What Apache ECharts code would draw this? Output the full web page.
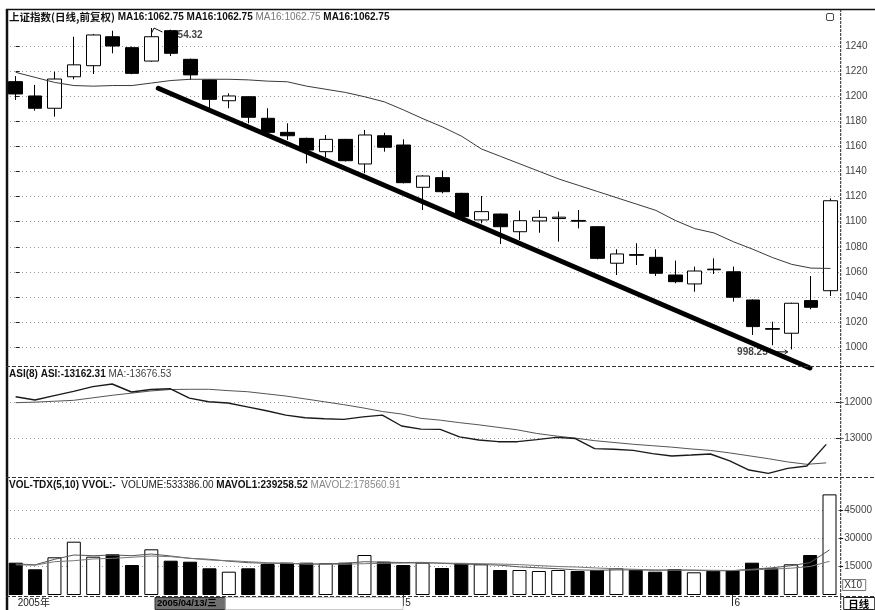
<!DOCTYPE html>
<html><head><meta charset="utf-8">
<script src="https://cdn.jsdelivr.net/npm/echarts@6/dist/echarts.min.js"></script>
<style>html,body{margin:0;padding:0;background:#fff}#c{width:875px;height:610px}</style>
</head><body><div id="c"></div>
<script>
const categories = ['2005/04/04','2005/04/05','2005/04/06','2005/04/07','2005/04/08','2005/04/11','2005/04/12','2005/04/13','2005/04/14','2005/04/15',
'2005/04/18','2005/04/19','2005/04/20','2005/04/21','2005/04/22','2005/04/25','2005/04/26','2005/04/27','2005/04/28','2005/04/29',
'2005/05/09','2005/05/10','2005/05/11','2005/05/12','2005/05/13','2005/05/16','2005/05/17','2005/05/18','2005/05/19','2005/05/20',
'2005/05/23','2005/05/24','2005/05/25','2005/05/26','2005/05/27','2005/05/30','2005/05/31','2005/06/01','2005/06/02','2005/06/03',
'2005/06/06','2005/06/07','2005/06/08'];
const opens  = [1211.6,1200.2,1190.4,1215.5,1224.3,1247.4,1238.7,1228.0,1252.2,1229.4,1213.0,1196.4,1199.6,1182.4,1171.2,1166.4,1155.8,1165.6,1146.0,1168.5,1161.1,1127.4,1135.1,1122.6,1101.4,1106.1,1092.0,1100.6,1102.5,1101.0,1096.0,1066.9,1073.8,1071.6,1057.5,1050.4,1062.2,1060.1,1037.6,1014.8,1011.1,1037.1,1045.0];
const closes = [1201.8,1190.4,1213.7,1225.0,1248.8,1240.0,1218.2,1247.4,1234.2,1217.0,1197.5,1200.2,1183.2,1171.2,1168.5,1157.1,1165.6,1148.6,1169.1,1159.3,1131.1,1136.4,1123.9,1104.0,1108.0,1096.0,1100.8,1103.5,1103.6,1100.4,1070.8,1074.3,1073.2,1058.9,1052.2,1060.7,1061.7,1039.8,1016.4,1014.3,1035.0,1031.8,1116.7];
const lows   = [1197.0,1188.5,1183.7,1213.5,1217.7,1234.2,1217.5,1227.5,1232.0,1213.0,1190.4,1190.4,1178.4,1170.4,1165.1,1146.5,1151.3,1148.0,1138.6,1155.8,1130.5,1109.3,1122.6,1102.7,1098.7,1082.2,1085.4,1091.2,1084.1,1094.7,1070.0,1057.5,1065.5,1056.7,1050.9,1044.2,1058.3,1036.3,1009.7,1001.5,998.25,1030.2,1040.8];
const highs  = [1216.0,1209.0,1219.5,1247.4,1249.5,1252.2,1239.5,1254.32,1253.0,1230.0,1213.5,1202.3,1200.0,1190.4,1178.4,1167.0,1169.1,1166.0,1173.1,1170.9,1165.6,1137.0,1140.7,1123.0,1120.5,1106.5,1108.8,1109.3,1108.0,1109.3,1096.5,1078.0,1082.8,1078.0,1069.0,1064.2,1070.8,1064.2,1038.0,1020.3,1035.5,1056.7,1118.6];
const ma16   = [1219,1215,1211,1208.5,1208,1208.5,1208.5,1210.5,1212.5,1213.5,1213.5,1213.5,1213,1212,1211.5,1208,1205.5,1203,1199.5,1195.5,1189,1182,1175.5,1168,1158,1152,1146,1140,1134,1129,1124,1119,1114,1109,1101,1094.5,1091,1084,1078,1071.5,1066,1063,1062.75];
const asi    = [-11839,-11931,-11810,-11690,-11560,-11486,-11708,-11640,-11617,-11880,-11978,-12015,-12120,-12230,-12350,-12422,-12450,-12468,-12400,-12350,-12653,-12740,-12746,-12955,-13040,-13088,-13088,-13030,-12968,-13000,-13280,-13300,-13330,-13420,-13486,-13460,-13430,-13620,-13875,-13967,-13828,-13764,-13162.31];
const asiMa  = [-12005,-11990,-11965,-11940,-11870,-11800,-11740,-11680,-11640,-11633,-11633,-11670,-11700,-11760,-11820,-11900,-11980,-12060,-12150,-12250,-12320,-12440,-12490,-12560,-12620,-12690,-12760,-12860,-12930,-12990,-13060,-13110,-13160,-13200,-13240,-13290,-13330,-13400,-13480,-13560,-13650,-13717,-13676.53];
const volume = [17120,13620,19980,28250,20300,21570,15900,24220,18180,17650,14150,12350,14150,16430,17120,17120,16800,17120,21200,17650,15900,17120,14300,16800,16270,13250,13250,12720,13250,12720,13250,14150,13250,12350,13780,12030,12720,13250,17120,14150,16270,21200,53339];
const mavol1 = [16500,16000,18900,21200,20830,21200,20830,21730,20670,19430,18900,17900,17120,16800,16800,16300,16500,16800,17650,17400,17200,17300,16800,16300,16200,15800,14900,14400,13900,13300,13100,13300,13300,13100,13300,13100,12800,12900,13700,14400,15500,17200,23926];
const mavol2 = [16000,15800,17650,18180,19100,19450,20000,20670,20320,19430,18550,18200,17650,17120,16800,16500,16300,16300,16600,16800,16900,17000,16900,16800,16600,16400,16100,15600,15100,14800,14300,13900,13600,13300,13200,13200,13100,13000,13300,13700,14200,15100,17856];
const priceTicks = [1000,1020,1040,1060,1080,1100,1120,1140,1160,1180,1200,1220,1240];
const asiTicks = [-13000,-12000];
const volTicks = [15000,30000,45000];
const trendLine = [[7.35,1206.3],[40.94,983.4]];

const FONT = '"Liberation Sans", Arial, "Noto Sans CJK SC", sans-serif';
const N = categories.length;
const candleData = opens.map((o,i)=>[o, closes[i], lows[i], highs[i]]);
const volData = volume.map((v,i)=>({value:v, itemStyle:{color: closes[i] >= opens[i] ? '#fff' : '#000'}}));
const hiIdx = highs.indexOf(Math.max(...highs));
const loIdx = lows.indexOf(Math.min(...lows));

const L = 6, R = 34.8;
const chart = echarts.init(document.getElementById('c'), null, {renderer:'canvas'});

function yAx(grid, min, max, ticks, fmt){
  return {type:'value', gridIndex:grid, position:'right', min, max, scale:true,
    axisLine:{show:false},
    axisTick:{show:true, length:4, customValues:ticks, lineStyle:{color:'#222'}},
    minorTick:{show:false},
    axisLabel:{show:true, customValues:ticks, margin:5, fontSize:10, color:'#444', fontFamily:FONT, formatter:fmt},
    splitLine:{show:true, lineStyle:{color:'#9a9a9a', type:[1,3], width:1}}};
}

const option = {
  animation:false,
  backgroundColor:'#fff',
  grid:[
    {left:L, right:R, top:10, height:356},
    {left:L, right:R, top:367, height:110},
    {left:L, right:R, top:478, height:117}
  ],
  xAxis:[
    {type:'category', gridIndex:0, data:categories, boundaryGap:true, show:false},
    {type:'value', gridIndex:0, min:-0.5, max:N-0.5, show:false},
    {type:'category', gridIndex:1, data:categories, boundaryGap:true, show:false},
    {type:'category', gridIndex:2, data:categories, boundaryGap:true,
      axisLine:{show:false},
      axisTick:{show:true, alignWithLabel:true, length:11, lineStyle:{color:'#222'},
        interval:(i)=> i>0 && categories[i].slice(5,7)!==categories[i-1].slice(5,7)},
      axisLabel:{show:true, margin:3, fontSize:10, color:'#222', fontFamily:FONT, align:'left',
        padding:[0,0,0,2],
        interval:(i)=> i===0 || categories[i].slice(5,7)!==categories[i-1].slice(5,7),
        formatter:(v,i)=> i===0 ? v.slice(0,4)+'年' : String(Number(v.slice(5,7)))},
      splitLine:{show:false}}
  ],
  yAxis:[
    yAx(0, 985, 1268.7, priceTicks, v=>String(v)),
    yAx(1, -14069, -11014, asiTicks, v=>String(v)),
    yAx(2, 0, 62014, volTicks, v=>String(v))
  ],
  series:[
    {type:'candlestick', xAxisIndex:0, yAxisIndex:0, data:candleData, barWidth:14, z:3,
      itemStyle:{color:'#fff', color0:'#000', borderColor:'#000', borderColor0:'#000', borderColorDoji:'#000', borderWidth:1}},
    {type:'line', xAxisIndex:0, yAxisIndex:0, data:ma16, symbol:'none', z:4,
      lineStyle:{color:'#3a3a3a', width:1}},
    {type:'line', xAxisIndex:1, yAxisIndex:0, data:trendLine, symbol:'none', clip:false, z:6,
      lineStyle:{color:'#000', width:5, cap:'round'}},
    {type:'scatter', xAxisIndex:1, yAxisIndex:0, data:[[hiIdx, highs[hiIdx]]], symbol:'circle', symbolSize:1, z:1, silent:true,
      itemStyle:{color:'rgba(0,0,0,0)'},
      label:{show:true, position:'right', distance:5, offset:[9.5,7], formatter:p=>p.value[1].toFixed(2),
        fontSize:10, fontWeight:'bold', color:'#111', fontFamily:FONT}},
    {type:'scatter', xAxisIndex:1, yAxisIndex:0, data:[[loIdx, lows[loIdx]]], symbol:'circle', symbolSize:1, z:5, silent:true,
      itemStyle:{color:'rgba(0,0,0,0)'},
      label:{show:true, position:'left', distance:5, offset:[-18.5,3], formatter:p=>p.value[1].toFixed(2),
        fontSize:10, fontWeight:'bold', color:'#111', fontFamily:FONT}},
    {type:'line', xAxisIndex:2, yAxisIndex:1, data:asi, symbol:'none', z:4,
      lineStyle:{color:'#1a1a1a', width:1.4}},
    {type:'line', xAxisIndex:2, yAxisIndex:1, data:asiMa, symbol:'none', z:3,
      lineStyle:{color:'#555', width:1}},
    {type:'bar', xAxisIndex:3, yAxisIndex:2, data:volData, barWidth:14, z:3,
      itemStyle:{borderColor:'#000', borderWidth:1}},
    {type:'line', xAxisIndex:3, yAxisIndex:2, data:mavol1, symbol:'none', z:4,
      lineStyle:{color:'#555', width:1}},
    {type:'line', xAxisIndex:3, yAxisIndex:2, data:mavol2, symbol:'none', z:4,
      lineStyle:{color:'#777', width:1}}
  ]
};
chart.setOption(option);

const hp = chart.convertToPixel({xAxisIndex:1, yAxisIndex:0}, [hiIdx, highs[hiIdx]]);
const lp = chart.convertToPixel({xAxisIndex:1, yAxisIndex:0}, [loIdx, lows[loIdx]]);
const axX = 875 - R;
const dash = {stroke:'#333', lineWidth:1, lineDash:[4,2]};
const title = `{a|上证指数(日线,前复权)} {b|MA16:${ma16[N-1].toFixed(2)}} {b|MA16:${ma16[N-1].toFixed(2)}} {c|MA16:${ma16[N-1].toFixed(2)}} {b|MA16:${ma16[N-1].toFixed(2)}}`;
chart.setOption({graphic:[
  {type:'line', shape:{x1:L, y1:9.5, x2:875, y2:9.5}, style:{stroke:'#111', lineWidth:1.5}, z:10},
  {type:'line', shape:{x1:L+1, y1:9, x2:L+1, y2:610}, style:{stroke:'#111', lineWidth:2.5}, z:10},
  {type:'line', shape:{x1:axX+0.5, y1:9, x2:axX+0.5, y2:610}, style:{stroke:'#222', lineWidth:1, lineDash:[3,1]}, z:10},
  {type:'line', shape:{x1:L, y1:366.5, x2:875, y2:366.5}, style:dash, z:10},
  {type:'line', shape:{x1:L, y1:477.5, x2:875, y2:477.5}, style:dash, z:10},
  {type:'line', shape:{x1:L, y1:596.5, x2:875, y2:596.5}, style:dash, z:10},
  {type:'text', x:9, y:12, z:10, style:{text:title, font:'bold 10px '+FONT, fill:'#111',
    rich:{a:{fontSize:10.5, fontWeight:'bold', fill:'#111', fontFamily:'"Noto Sans CJK SC", sans-serif'},
          b:{fontSize:10, fontWeight:'bold', fill:'#111', fontFamily:FONT},
          c:{fontSize:10, fontWeight:'normal', fill:'#777', fontFamily:FONT}}}},
  {type:'text', x:9, y:369, z:10, style:{text:`{a|ASI(8) ASI:${asi[N-1].toFixed(2)}} {b|MA:${asiMa[N-1].toFixed(2)}}`, font:'10px '+FONT,
    rich:{a:{fontSize:10, fontWeight:'bold', fill:'#111', fontFamily:FONT}, b:{fontSize:10, fill:'#444', fontFamily:FONT}}}},
  {type:'text', x:9, y:480, z:10, style:{text:'{a|VOL-TDX(5,10) VVOL:-}  {b|VOLUME:533386.00} {a|MAVOL1:239258.52} {c|MAVOL2:178560.91}', font:'10px '+FONT,
    rich:{a:{fontSize:10, fontWeight:'bold', fill:'#111', fontFamily:FONT}, b:{fontSize:10, fill:'#222', fontFamily:FONT}, c:{fontSize:10, fill:'#888', fontFamily:FONT}}}},
  {type:'polyline', z:5, shape:{points:[[hp[0],hp[1]+5],[hp[0]+2.5,hp[1]],[hp[0]+11,hp[1]+4]]}, style:{stroke:'#111', lineWidth:1, fill:null}},
  {type:'polyline', z:5, shape:{points:[[lp[0]-18,lp[1]+2.5],[lp[0]-4,lp[1]+2.5]]}, style:{stroke:'#111', lineWidth:1, fill:null}},
  {type:'polyline', z:5, shape:{points:[[lp[0]-7,lp[1]+0.5],[lp[0]-4,lp[1]+2.5],[lp[0]-7,lp[1]+4.5]]}, style:{stroke:'#111', lineWidth:1, fill:null}},
  {type:'rect', z:10, shape:{x:155, y:597.5, width:70, height:12}, style:{fill:'#6f6f6f', stroke:'#333'}},
  {type:'text', z:11, x:157, y:599, style:{text:categories[7]+'/三', font:'bold 9.5px '+FONT, fill:'#000'}},
  {type:'rect', z:10, shape:{x:225, y:597.5, width:178, height:12}, style:{fill:null, stroke:'#bbb', lineWidth:0.8}},
  {type:'rect', z:10, shape:{x:axX+3.5, y:597.5, width:31, height:12}, style:{fill:'#fff', stroke:'#222'}},
  {type:'text', z:11, x:axX+8, y:598.5, style:{text:'日线', font:'bold 10.5px "Noto Sans CJK SC", sans-serif', fill:'#000'}},
  {type:'rect', z:10, shape:{x:axX+2.5, y:579.5, width:23, height:11}, style:{fill:'#fff', stroke:'#555', lineWidth:0.8}},
  {type:'text', z:11, x:axX+4, y:580.5, style:{text:'X10', font:'10px '+FONT, fill:'#333'}},
  {type:'rect', z:10, shape:{x:826.5, y:13.5, width:7, height:7, r:1.5}, style:{fill:'#fff', stroke:'#444', lineWidth:1}}
]});
</script></body></html>
